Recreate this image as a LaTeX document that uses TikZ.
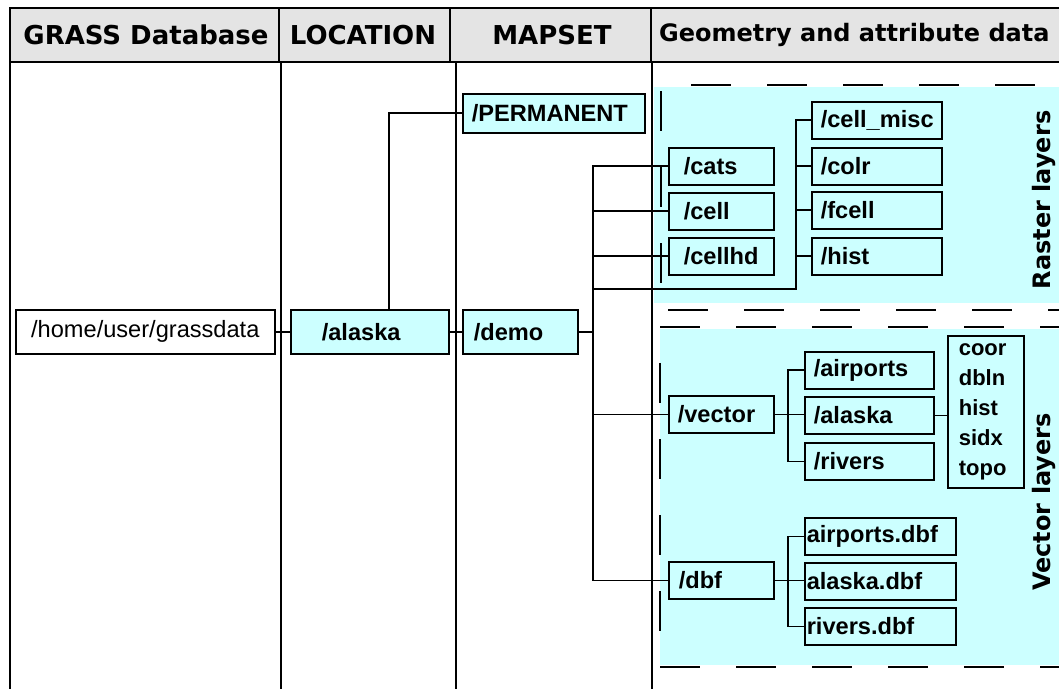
\documentclass[tikz,border=0pt]{standalone}
\usepackage{fontspec}
\setmainfont{Liberation Sans}
\newfontfamily\dejavu{DejaVu Sans}
\usetikzlibrary{calc}
\definecolor{lcyan}{RGB}{204,255,255}
\definecolor{hgray}{RGB}{228,228,228}

\begin{document}
\begin{tikzpicture}[
  x=0.5pt, y=-0.5pt,
  font=\fontsize{11.8}{14}\selectfont,
  hd/.style={font=\dejavu\bfseries\fontsize{12}{14}\selectfont},
  capshd/.style={font=\dejavu\bfseries\fontsize{13}{15}\selectfont},
  dirbox/.style={draw, line width=0.8pt, anchor=north west, inner ysep=0pt,
                 minimum height=18.5pt, align=left,
                 font=\bfseries\fontsize{11.8}{14}\selectfont},
  selbox/.style={dirbox, fill=lcyan, minimum height=22pt},
  conn/.style={line width=0.8pt},
  grid/.style={line width=0.8pt},
  layer/.style={line width=1pt, dash pattern=on 20pt off 18pt},
]
\useasboundingbox (0,0) rectangle (1059,689);

% table
\filldraw[grid, fill=hgray] (10,8) rectangle (1080,62);
\foreach \x in {279,450,651} \draw[grid] (\x,8) -- (\x,62);
\foreach \x in {10,281,456,652} \draw[grid] (\x,62) -- (\x,700);
\node[capshd] (hdb) at (146,35) {GRASS Database};
\node[capshd] (hloc) at (363,35) {LOCATION};
\node[capshd] (hmap) at (552,35) {MAPSET};
\node[hd, anchor=west] (hgeo) at (652,35) {Geometry and attribute data};

% layer areas
\fill[lcyan] (654,87) rectangle (1080,303);
\fill[lcyan] (660,329) rectangle (1080,665);
\draw[layer, dash phase=24.5pt] (661,310) -- (661,85) -- (1080,85);
\draw[layer, dash phase=34.5pt] (661,310) -- (1080,310);
\draw[layer] (660,327) -- (1080,327);
\draw[layer, dash phase=20pt] (660,327) -- (660,667) -- (1080,667);
\node[hd, rotate=90] (rlay) at (1044,200) {Raster layers};
\node[hd, rotate=90] (vlay) at (1044,502) {Vector layers};

% database, location, mapsets
\node[dirbox, font=\fontsize{11.8}{14}\selectfont, align=center, inner xsep=6pt,
      text width=117.5pt, minimum height=22pt, fill=white] (home) at (15,309) {/home/user/grassdata};
\node[selbox, inner xsep=15.5pt, text width=48pt] (alaska) at (290,309) {/alaska};
\node[selbox, inner xsep=5.5pt, text width=46.5pt] (demo) at (462,309) {/demo};
\node[selbox, inner xsep=4.5pt, text width=82pt, minimum height=19.5pt] (perm) at (462,93) {/PERMANENT};

% raster
\node[dirbox, inner xsep=7.5pt, text width=37.5pt] (cats) at (668,147) {/cats};
\node[dirbox, inner xsep=7.5pt, text width=37.5pt] (cell) at (668,192) {/cell};
\node[dirbox, inner xsep=7.5pt, text width=37.5pt] (cellhd) at (668,237) {/cellhd};
\node[dirbox, inner xsep=4.5pt, text width=56pt] (cmisc) at (811,101) {/cell\_misc};
\node[dirbox, inner xsep=4.5pt, text width=56pt] (colr) at (811,147) {/colr};
\node[dirbox, inner xsep=4.5pt, text width=56pt] (fcell) at (811,191) {/fcell};
\node[dirbox, inner xsep=4.5pt, text width=56pt] (hist) at (811,237) {/hist};

% vector
\node[dirbox, inner xsep=4.5pt, text width=43.5pt] (vector) at (668,395) {/vector};
\node[dirbox, inner xsep=4.5pt, text width=55.5pt] (vair) at (804,351) {/airports};
\node[dirbox, inner xsep=4.5pt, text width=55.5pt] (valaska) at (804,396) {/alaska};
\node[dirbox, inner xsep=4.5pt, text width=55.5pt] (vriv) at (804,442) {/rivers};
\node[dirbox, inner xsep=5.5pt, text width=27pt, minimum height=76pt,
      font=\bfseries\fontsize{11}{15}\selectfont] (vfiles) at (947,335) {coor\\dbln\\hist\\sidx\\topo};
\node[dirbox, inner xsep=5pt, text width=42.5pt] (dbf) at (668,561) {/dbf};
\node[dirbox, inner xsep=1pt, text width=73.5pt] (adbf) at (804,517) {airports.dbf};
\node[dirbox, inner xsep=1pt, text width=73.5pt] (aldbf) at (804,562) {alaska.dbf};
\node[dirbox, inner xsep=1pt, text width=73.5pt] (rdbf) at (804,607) {rivers.dbf};

% connectors
\draw[conn] (home) -- (alaska);
\draw[conn] (alaska) -- (demo);
\draw[conn] ($(alaska.north)+(19,0)$) |- (perm.west);
\coordinate (dtrunk) at (593,0);
\draw[conn] (demo.east) -- (demo.east -| dtrunk);
\draw[conn] (cats.west) -| (dtrunk |- dbf.west) -- (dbf.west);
\draw[conn] (cell.west) -- (cell.west -| dtrunk);
\draw[conn] (cellhd.west) -- (cellhd.west -| dtrunk);
\draw[conn] (vector.west) -- (vector.west -| dtrunk);
\coordinate (rtrunk) at (796,289);
\draw[conn] (rtrunk -| dtrunk) -- (rtrunk) |- (cmisc.west);
\draw[conn] (colr.west) -- (colr.west -| rtrunk);
\draw[conn] (fcell.west) -- (fcell.west -| rtrunk);
\draw[conn] (hist.west) -- (hist.west -| rtrunk);
\coordinate (vtrunk) at (788,0);
\draw[conn] (vector.east) -- (vector.east -| valaska.west);
\draw[conn] (vair.west) -| (vtrunk |- vriv.west) -- (vriv.west);
\draw[conn] (valaska.east) -- (valaska.east -| vfiles.west);
\draw[conn] (dbf.east) -- (dbf.east -| aldbf.west);
\draw[conn] (adbf.west) -| (vtrunk |- rdbf.west) -- (rdbf.west);
\end{tikzpicture}
\end{document}
